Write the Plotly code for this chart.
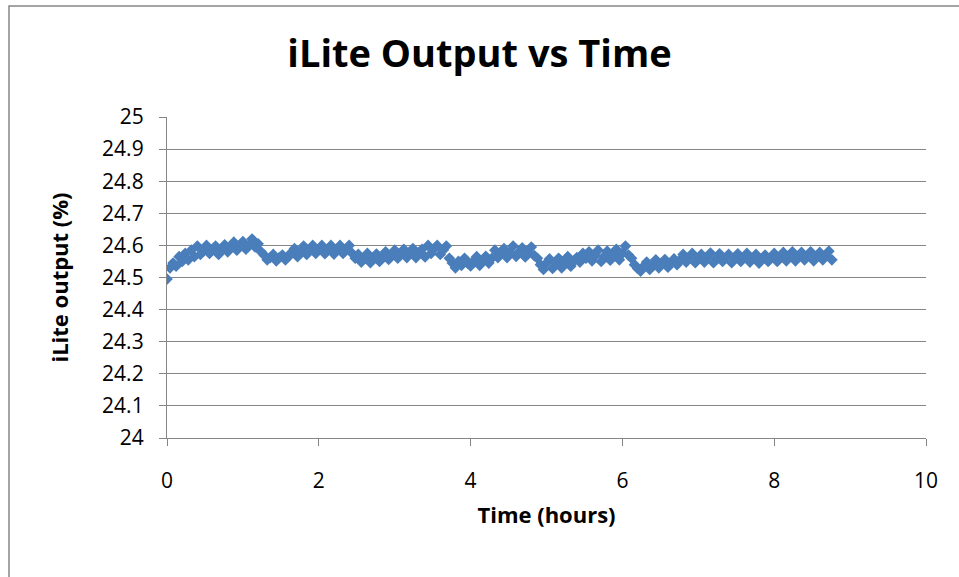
import plotly.graph_objects as go

hours = [
    0.00, 0.04, 0.08, 0.12, 0.16, 0.20, 0.24, 0.28, 0.32, 0.36,
    0.40, 0.44, 0.48, 0.52, 0.56, 0.60, 0.64, 0.68, 0.72, 0.76,
    0.80, 0.84, 0.88, 0.92, 0.96, 1.00, 1.04, 1.08, 1.12, 1.16,
    1.20, 1.24, 1.28, 1.32, 1.36, 1.40, 1.44, 1.48, 1.52, 1.56,
    1.60, 1.64, 1.68, 1.72, 1.76, 1.80, 1.84, 1.88, 1.92, 1.96,
    2.00, 2.04, 2.08, 2.12, 2.16, 2.20, 2.24, 2.28, 2.32, 2.36,
    2.40, 2.44, 2.48, 2.52, 2.56, 2.60, 2.64, 2.68, 2.72, 2.76,
    2.80, 2.84, 2.88, 2.92, 2.96, 3.00, 3.04, 3.08, 3.12, 3.16,
    3.20, 3.24, 3.28, 3.32, 3.36, 3.40, 3.44, 3.48, 3.52, 3.56,
    3.60, 3.64, 3.68, 3.72, 3.76, 3.80, 3.84, 3.88, 3.92, 3.96,
    4.00, 4.04, 4.08, 4.12, 4.16, 4.20, 4.24, 4.28, 4.32, 4.36,
    4.40, 4.44, 4.48, 4.52, 4.56, 4.60, 4.64, 4.68, 4.72, 4.76,
    4.80, 4.84, 4.88, 4.92, 4.96, 5.00, 5.04, 5.08, 5.12, 5.16,
    5.20, 5.24, 5.28, 5.32, 5.36, 5.40, 5.44, 5.48, 5.52, 5.56,
    5.60, 5.64, 5.68, 5.72, 5.76, 5.80, 5.84, 5.88, 5.92, 5.96,
    6.00, 6.04, 6.08, 6.12, 6.16, 6.20, 6.24, 6.28, 6.32, 6.36,
    6.40, 6.44, 6.48, 6.52, 6.56, 6.60, 6.64, 6.68, 6.72, 6.76,
    6.80, 6.84, 6.88, 6.92, 6.96, 7.00, 7.04, 7.08, 7.12, 7.16,
    7.20, 7.24, 7.28, 7.32, 7.36, 7.40, 7.44, 7.48, 7.52, 7.56,
    7.60, 7.64, 7.68, 7.72, 7.76, 7.80, 7.84, 7.88, 7.92, 7.96,
    8.00, 8.04, 8.08, 8.12, 8.16, 8.20, 8.24, 8.28, 8.32, 8.36,
    8.40, 8.44, 8.48, 8.52, 8.56, 8.60, 8.64, 8.68, 8.72, 8.76,
]

output_pct = [
    24.495, 24.530, 24.545, 24.535, 24.565, 24.550, 24.575, 24.555, 24.585, 24.565,
    24.598, 24.572, 24.585, 24.600, 24.575, 24.588, 24.598, 24.572, 24.586, 24.602,
    24.580, 24.595, 24.610, 24.585, 24.598, 24.612, 24.588, 24.600, 24.620, 24.595,
    24.605, 24.580, 24.570, 24.555, 24.562, 24.572, 24.552, 24.562, 24.570, 24.555,
    24.565, 24.578, 24.590, 24.565, 24.580, 24.598, 24.572, 24.585, 24.600, 24.575,
    24.588, 24.600, 24.574, 24.587, 24.600, 24.573, 24.588, 24.600, 24.575, 24.590,
    24.600, 24.575, 24.560, 24.572, 24.548, 24.560, 24.575, 24.546, 24.560, 24.573,
    24.550, 24.565, 24.580, 24.556, 24.570, 24.585, 24.560, 24.572, 24.588, 24.562,
    24.575, 24.590, 24.562, 24.576, 24.588, 24.564, 24.600, 24.575, 24.590, 24.600,
    24.572, 24.586, 24.598, 24.560, 24.545, 24.530, 24.550, 24.538, 24.560, 24.545,
    24.536, 24.552, 24.565, 24.538, 24.552, 24.566, 24.545, 24.560, 24.585, 24.562,
    24.575, 24.590, 24.562, 24.576, 24.598, 24.566, 24.580, 24.592, 24.564, 24.578,
    24.595, 24.568, 24.560, 24.540, 24.525, 24.545, 24.558, 24.528, 24.545, 24.560,
    24.530, 24.548, 24.565, 24.535, 24.550, 24.562, 24.548, 24.575, 24.560, 24.580,
    24.552, 24.568, 24.585, 24.550, 24.566, 24.582, 24.554, 24.570, 24.588, 24.555,
    24.575, 24.598, 24.570, 24.560, 24.540, 24.528, 24.520, 24.535, 24.548, 24.525,
    24.540, 24.555, 24.530, 24.545, 24.556, 24.532, 24.546, 24.558, 24.540, 24.555,
    24.572, 24.548, 24.562, 24.575, 24.546, 24.560, 24.572, 24.548, 24.562, 24.576,
    24.546, 24.560, 24.574, 24.550, 24.562, 24.572, 24.546, 24.560, 24.574, 24.550,
    24.562, 24.575, 24.548, 24.560, 24.572, 24.545, 24.558, 24.570, 24.550, 24.562,
    24.575, 24.550, 24.565, 24.578, 24.552, 24.566, 24.580, 24.552, 24.566, 24.578,
    24.555, 24.568, 24.580, 24.552, 24.566, 24.578, 24.555, 24.568, 24.582, 24.555,
]

x_ticks = [0, 2, 4, 6, 8, 10]
y_ticks = [24, 24.1, 24.2, 24.3, 24.4, 24.5, 24.6, 24.7, 24.8, 24.9, 25]

FONT = "Open Sans"
GRAY = "#868686"
BLUE = "#4A7EBB"

fig = go.Figure()
fig.add_trace(go.Scatter(
    x=hours, y=output_pct, mode="markers",
    marker=dict(symbol="diamond", size=9, color=BLUE, line=dict(width=0)),
    showlegend=False,
))

fig.update_layout(
    width=959, height=577,
    margin=dict(l=167, r=33, t=117, b=139),
    paper_bgcolor="white", plot_bgcolor="white",
    font=dict(family=FONT, color="black", size=21),
    title=dict(text="<b>iLite Output vs Time</b>", x=0.5, xanchor="center",
               y=1 - 54 / 577, yanchor="middle",
               font=dict(family=FONT, size=38, color="black")),
    xaxis=dict(range=[0, 10], tickvals=x_ticks, showgrid=False, zeroline=False,
               showline=True, linecolor=GRAY, linewidth=1.3,
               ticks="outside", ticklen=7, tickcolor=GRAY, tickwidth=1.3,
               tickfont=dict(size=21), ticklabelstandoff=17,
               title=dict(text="<b>Time (hours)</b>", font=dict(size=22), standoff=14)),
    yaxis=dict(range=[24, 25], tickvals=y_ticks, showgrid=True, gridcolor=GRAY,
               gridwidth=1.3, zeroline=False,
               showline=True, linecolor=GRAY, linewidth=1.3,
               ticks="outside", ticklen=7, tickcolor=GRAY, tickwidth=1.3,
               tickfont=dict(size=21), ticklabelstandoff=11,
               title=dict(text="<b>iLite output (%)</b>", font=dict(size=22), standoff=27)),
)

fig.add_shape(type="rect", xref="paper", yref="paper",
              x0=(9 - 167) / 759, x1=1.2, y0=-1.0, y1=(438 - 6) / 321,
              line=dict(color=GRAY, width=1.5), fillcolor="rgba(0,0,0,0)", layer="below")

fig.write_html("out.html")
